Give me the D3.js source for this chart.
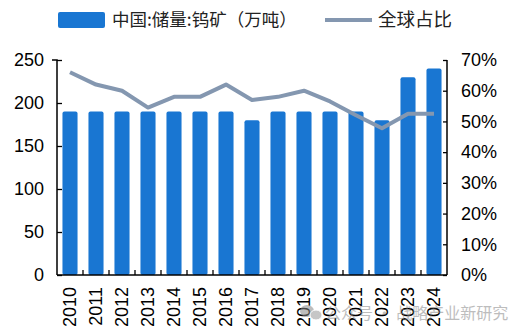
<!DOCTYPE html>
<html><head><meta charset="utf-8">
<script src="https://cdn.jsdelivr.net/npm/d3@7"></script>
<style>
html,body{margin:0;padding:0;background:#fff;}
svg{display:block;}
</style></head>
<body>
<svg id="chart" width="509" height="335"></svg>
<script>
const years = ["2010","2011","2012","2013","2014","2015","2016","2017","2018","2019","2020","2021","2022","2023","2024"];
const reserves = [190,190,190,190,190,190,190,180,190,190,190,190,180,230,240];
const share = [0.66,0.62,0.60,0.545,0.58,0.58,0.62,0.57,0.58,0.60,0.565,0.52,0.478,0.525,0.525];
const leftTicks = [0,50,100,150,200,250];
const rightTicks = [0,0.1,0.2,0.3,0.4,0.5,0.6,0.7];
const barName = "中国:储量:钨矿（万吨）";
const lineName = "全球占比";

const svg = d3.select("#chart");
const L = 57, R = 447, T = 60, B = 275;
const font = "Arial, 'Liberation Sans', sans-serif";
const cjk = "'Noto Sans CJK SC', sans-serif";
const barColor = "#1976D2", lineColor = "#8497B0";

const x = d3.scaleBand().domain(years).range([L, R]).paddingInner(0.42).paddingOuter(0.21);
const xb = d3.scaleBand().domain(years).range([L, R]);
const yL = d3.scaleLinear().domain([0,250]).range([B, T]);
const yR = d3.scaleLinear().domain([0,0.7]).range([B, T]);

// bars
svg.append("g").selectAll("rect").data(years).join("rect")
  .attr("x", d => x(d)).attr("width", x.bandwidth())
  .attr("y", (d,i) => yL(reserves[i])).attr("height", (d,i) => B - yL(reserves[i]))
  .attr("rx", 2).attr("fill", barColor);

// line
const line = d3.line().x((d,i) => xb(years[i]) + xb.bandwidth()/2).y(d => yR(d));
svg.append("path").datum(share).attr("d", line)
  .attr("fill","none").attr("stroke", lineColor).attr("stroke-width", 4).attr("stroke-linejoin","round");

// left axis
const ga = svg.append("g").attr("transform", `translate(${L},0)`)
  .call(d3.axisLeft(yL).tickValues(leftTicks).tickSize(-5).tickPadding(13));
// right axis
const gr = svg.append("g").attr("transform", `translate(${R},0)`)
  .call(d3.axisRight(yR).tickValues(rightTicks).tickFormat(d3.format(".0%")).tickSize(-4).tickPadding(14));
// bottom axis
const gb = svg.append("g").attr("transform", `translate(0,${B})`)
  .call(d3.axisBottom(xb).tickSize(0).tickPadding(0));
gb.selectAll(".tick line").remove();
gb.selectAll(".tick text")
  .attr("transform", "rotate(-90)")
  .attr("x", -12).attr("y", 0).attr("dy", "0.35em")
  .style("text-anchor", "end");
// bottom ticks at band boundaries
svg.append("g").selectAll("line").data(years.slice(1)).join("line")
  .attr("x1", d => xb(d)).attr("x2", d => xb(d)).attr("y1", B).attr("y2", B-5)
  .attr("stroke","#000").attr("stroke-width",1.3);

[ga, gr, gb].forEach(g => {
  g.selectAll(".domain").attr("stroke","#000").attr("stroke-width",1.5);
  g.selectAll(".tick line").attr("stroke","#000").attr("stroke-width",1.3);
  g.selectAll("text").attr("font-family", font).attr("font-size", 18).attr("fill","#000");
});
gb.select(".domain").attr("d", `M${L},0H${R}`);
ga.select(".domain").attr("d", `M-5,${T}H0V${B}`);
gr.select(".domain").attr("d", `M0,${T}V${B}`);

// legend
const lg = svg.append("g");
lg.append("rect").attr("x", 58).attr("y", 12).attr("width", 47).attr("height", 16).attr("rx",2).attr("fill", barColor);
lg.append("text").attr("x", 112).attr("y", 20).attr("dy","0.35em")
  .attr("font-family", cjk).attr("font-size", 17.5).attr("fill","#222").text(barName);
lg.append("line").attr("x1", 325).attr("x2", 372).attr("y1", 20).attr("y2", 20)
  .attr("stroke", lineColor).attr("stroke-width", 4);
lg.append("text").attr("x", 378).attr("y", 20).attr("dy","0.35em")
  .attr("font-family", cjk).attr("font-size", 18.5).attr("fill","#222").text(lineName);

// watermark
const wm = svg.append("g").attr("opacity", 0.55);
wm.append("ellipse").attr("cx", 307).attr("cy", 311).attr("rx", 7).attr("ry", 6).attr("fill", "#888");
wm.append("ellipse").attr("cx", 316).attr("cy", 315).attr("rx", 6).attr("ry", 5).attr("fill", "#999").attr("stroke","#fff").attr("stroke-width",1);
wm.append("text").attr("x", 325).attr("y", 313).attr("dy","0.35em")
  .attr("font-family", cjk).attr("font-size", 16).attr("fill", "#888").text("公众号 · 战略产业新研究");
</script>
</body></html>
